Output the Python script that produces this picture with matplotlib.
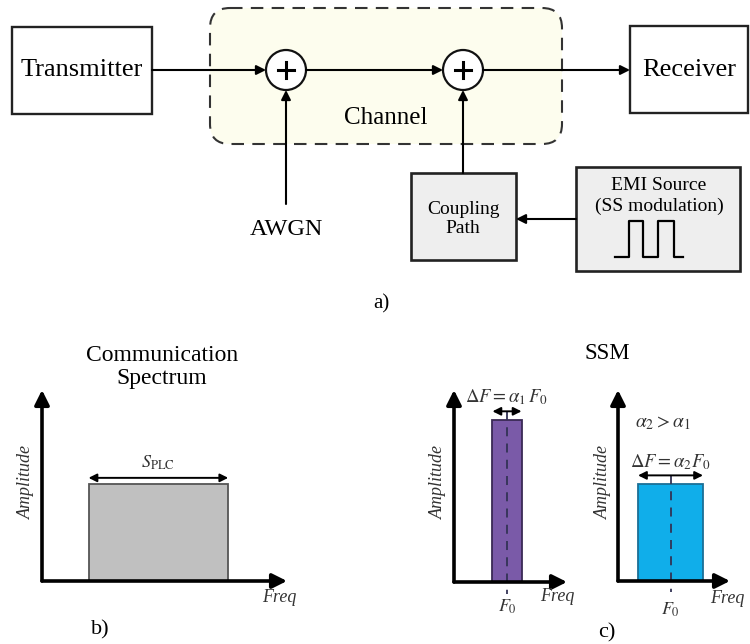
import matplotlib
matplotlib.use("Agg")
import matplotlib.pyplot as plt
from matplotlib.patches import Rectangle, FancyBboxPatch, Circle

plt.rcParams['font.family'] = ['Liberation Serif', 'DejaVu Serif']
plt.rcParams['mathtext.fontset'] = 'stix'

# ---------------- data ----------------
block_labels = ["Transmitter", "Receiver", "Channel", "AWGN", "Coupling\nPath",
                "EMI Source\n(SS modulation)"]
panel_labels = ["a)", "b)", "c)"]
titles = ["Communication\nSpectrum", "SSM"]

# square-wave icon in EMI source box (time edges, levels)
pulse_time = [0, 1, 2, 3.05, 4.2, 4.85]
pulse_level = [0, 1, 0, 1, 0, 0]

# spectra (normalised freq / amplitude units)
comm_start, comm_end, comm_level = 0.19, 0.76, 0.51
ssm_f0 = [0.469, 0.469]
ssm_width = [0.257, 0.58]
ssm_level = [0.844, 0.508]
ssm_colors = ["#7a5aa8", "#10aeea"]
ssm_edges = ["#3a2a55", "#1b6f96"]
ssm_labels = [r"$\Delta F = \alpha_1\, F_0$", r"$\Delta F = \alpha_2 F_0$"]

W, H = 750, 644
fig = plt.figure(figsize=(W / 100, H / 100), dpi=100)
ax = fig.add_axes([0, 0, 1, 1])
ax.set_xlim(0, W)
ax.set_ylim(H, 0)
ax.axis('off')

def arrow(a, p0, p1, lw=1.5, ms=14, coords='data'):
    a.annotate('', xy=p1, xytext=p0, xycoords=coords, textcoords=coords,
               arrowprops=dict(arrowstyle='-|>', lw=lw, color='k',
                               mutation_scale=ms, shrinkA=0, shrinkB=0),
               annotation_clip=False)

# ---------------- part a) ----------------
ax.add_patch(FancyBboxPatch((210, 8), 352, 136,
             boxstyle="round,pad=0,rounding_size=20",
             fc="#fdfdee", ec="#333333", lw=1.5, ls=(0, (6, 4))))
ax.add_patch(Rectangle((12, 27), 140, 87, fc='white', ec='#222222', lw=1.7))
ax.add_patch(Rectangle((630, 26), 118, 87, fc='white', ec='#222222', lw=1.7))
ax.add_patch(Rectangle((411, 173), 105, 87, fc='#eeeeee', ec='#222222', lw=1.9))
ax.add_patch(Rectangle((576, 167), 164, 104, fc='#eeeeee', ec='#222222', lw=1.9))

for cx in (286, 463):
    ax.add_patch(Circle((cx, 70), 20, fc='white', ec='#111111', lw=1.6, zorder=3))
    ax.plot([cx - 8, cx + 8], [70, 70], color='k', lw=2.2, zorder=4)
    ax.plot([cx, cx], [62, 78], color='k', lw=2.2, zorder=4)

arrow(ax, (152, 70), (266, 70))
arrow(ax, (306, 70), (443, 70))
arrow(ax, (483, 70), (630, 70))
arrow(ax, (286, 204), (286, 90))
arrow(ax, (463, 173), (463, 90))
arrow(ax, (576, 219), (516, 219))

ax.text(82, 70, block_labels[0], fontsize=19, ha='center', va='center')
ax.text(689, 70, block_labels[1], fontsize=19, ha='center', va='center')
ax.text(386, 118, block_labels[2], fontsize=18, ha='center', va='center')
ax.text(286, 229, block_labels[3], fontsize=17.5, ha='center', va='center')
ax.text(463, 219, block_labels[4], fontsize=14, ha='center', va='center',
        linespacing=1.2)
ax.text(659, 196, block_labels[5], fontsize=14, ha='center', va='center',
        linespacing=1.25)
ax.text(381, 304, panel_labels[0], fontsize=15, ha='center', va='center')

pax = fig.add_axes([615 / W, 1 - 257 / H, 68 / W, 36 / H])
pax.set_xlim(0, pulse_time[-1])
pax.set_ylim(0, 1)
pax.axis('off')
pax.step(pulse_time, pulse_level, where='post', color='k', lw=1.6, clip_on=False)

# ---------------- titles / panel letters ----------------
ax.text(162, 367, titles[0], fontsize=17, ha='center', va='center',
        linespacing=1.15)
ax.text(607, 353, titles[1], fontsize=16.5, ha='center', va='center')
ax.text(100, 630, panel_labels[1], fontsize=16, ha='center', va='center')
ax.text(607, 633, panel_labels[2], fontsize=16, ha='center', va='center')

def spectrum_axes(x0, x1, ytop, ybot):
    a = fig.add_axes([x0 / W, 1 - ybot / H, (x1 - x0) / W, (ybot - ytop) / H])
    a.set_xlim(0, 1)
    a.set_ylim(0, 1)
    a.axis('off')
    a.patch.set_alpha(0)
    arrow(a, (0, 0), (0, 1), lw=2.6, ms=22, coords='axes fraction')
    arrow(a, (0, 0), (1, 0), lw=2.6, ms=22, coords='axes fraction')
    return a

def dbl_arrow(a, x0, x1, y):
    a.annotate('', xy=(x1, y), xytext=(x0, y),
               arrowprops=dict(arrowstyle='<|-|>', lw=1.4, color='k',
                               mutation_scale=12, shrinkA=0, shrinkB=0),
               annotation_clip=False)

# ---------------- part b) ----------------
bx = spectrum_axes(42, 287, 390, 581)
bx.bar((comm_start + comm_end) / 2, comm_level, width=comm_end - comm_start,
       color='#c0c0c0', edgecolor='#555555', lw=1.3, zorder=1)
dbl_arrow(bx, comm_start, comm_end, comm_level + 0.03)
bx.text((comm_start + comm_end) / 2, comm_level + 0.06, r"$S_{\mathrm{PLC}}$",
        fontsize=13, ha='center', va='bottom', color='#333333')
bx.text(-0.062, 0.52, "Amplitude", rotation=90, style='italic', fontsize=13,
        ha='center', va='center', color='#333333')
bx.text(0.967, -0.085, "Freq", style='italic', fontsize=13, ha='center',
        va='center', color='#333333')

# ---------------- part c) ----------------
boxes = [(454, 567, 390, 582), (618, 730, 390, 581)]
amp_x = [-0.14, -0.134]
freq_xy = [(0.91, -0.078), (0.98, -0.09)]
f0_y = [-0.13, -0.15]
for i, (x0, x1, yt, yb) in enumerate(boxes):
    c = spectrum_axes(x0, x1, yt, yb)
    f0, w, lv = ssm_f0[i], ssm_width[i], ssm_level[i]
    c.bar(f0, lv, width=w, color=ssm_colors[i], edgecolor=ssm_edges[i],
          lw=1.3, zorder=1)
    ya = lv + 0.045
    dbl_arrow(c, f0 - w / 2, f0 + w / 2, ya)
    c.plot([f0, f0], [ya, -0.06], color='#333355', lw=1.3, ls=(0, (5, 4)),
           clip_on=False, zorder=2)
    c.text(f0, ya + 0.02, ssm_labels[i], fontsize=13.5, ha='center',
           va='bottom', color='#333333')
    c.text(amp_x[i], 0.52, "Amplitude", rotation=90, style='italic',
           fontsize=13, ha='center', va='center', color='#333333')
    c.text(freq_xy[i][0], freq_xy[i][1], "Freq", style='italic', fontsize=13,
           ha='center', va='center', color='#333333')
    c.text(f0, f0_y[i], r"$F_0$", fontsize=13, ha='center', va='center',
           color='#333333')
    if i == 1:
        c.text(0.40, 0.827, r"$\alpha_2 > \alpha_1$", fontsize=14,
               ha='center', va='center', color='#333333')

fig.savefig("out.png", dpi=100)
